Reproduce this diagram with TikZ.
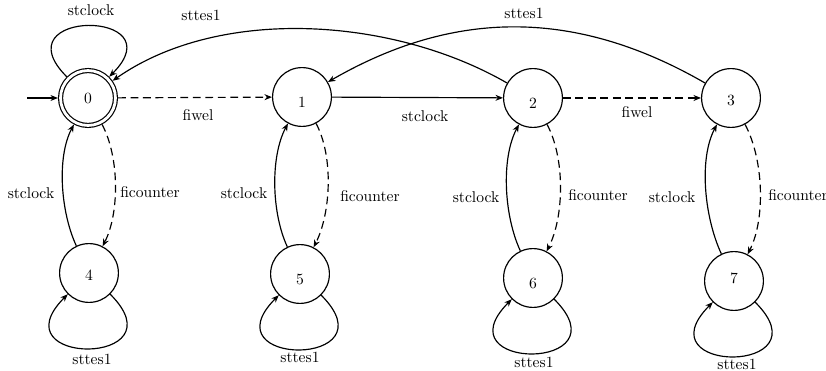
\documentclass[tikz,border=0pt]{standalone}
\usetikzlibrary{arrows.meta}
\begin{document}
\begin{tikzpicture}[x=0.641pt,y=0.641pt,line width=0.75pt,
  >={Stealth[length=4.8pt,width=3.8pt,inset=1.5pt]},
  state/.style={circle,draw,minimum size=37.7pt,inner sep=0pt,text depth=0pt,text height=6.44pt},
  finalstate/.style={double,double distance=1.8pt,minimum size=35.2pt,outer sep=1.65pt},
  lbl/.style={inner sep=0pt},
  dashtrans/.style={->,dash pattern=on 5pt off 3pt},
  solidtrans/.style={->}]
\useasboundingbox (0,0) rectangle (826,-371);

% states
\node[state,finalstate] (n0) at (88,-98) {0};
\node[state,text height=14.1pt] (n1) at (302,-97) {1};
\node[state,text height=14.1pt] (n2) at (533,-98) {2};
\node[state,text height=9pt] (n3) at (731,-98) {3};
\node[state,text height=9pt] (n4) at (89,-273) {4};
\node[state,text height=14.1pt] (n5) at (300,-274) {5};
\node[state,text height=12.85pt] (n6) at (533,-278) {6};
\node[state,text height=2.6pt] (n7) at (734,-281) {7};

% initial arrow
\coordinate (init) at (27,-98);
\draw[solidtrans] (init) -- (n0);

% top row
\draw[dashtrans] (n0) -- (n1);
\draw[solidtrans] (n1) -- (n2);
\draw[dashtrans] (n2) -- (n3);
\draw[solidtrans] (n0) to[out=135,in=45,looseness=5.8] (n0);
\draw[solidtrans] (n2) to[out=150,in=35,looseness=0.85] (n0);
\draw[solidtrans] (n3) to[out=150,in=30,looseness=1] (n1);

% vertical pairs
\foreach \u/\d in {n0/n4,n1/n5,n2/n6,n3/n7}{
  \draw[dashtrans] (\u) to[out=-62,in=63,looseness=0.78] (\d);
  \draw[solidtrans] (\d) to[out=115,in=-118,looseness=0.78] (\u);
  \draw[solidtrans] (\d) to[out=-45,in=-135,looseness=6.2] (\d);
}

% labels
\node[lbl] (l00) at (91,-10) {stclock};
\node[lbl] (l20) at (201,-15) {sttes1};
\node[lbl] (l31) at (524,-13) {sttes1};
\node[lbl] (l01) at (198,-115) {fiwel};
\node[lbl] (l12) at (425,-116) {stclock};
\node[lbl] (l23) at (637,-112) {fiwel};

\node[lbl] (l40) at (31,-193) {stclock};
\node[lbl] (l04) at (150,-192) {ficounter};
\node[lbl] (l51) at (244,-193) {stclock};
\node[lbl] (l15) at (370,-196) {ficounter};
\node[lbl] (l62) at (476,-197) {stclock};
\node[lbl] (l26) at (598,-195) {ficounter};
\node[lbl] (l73) at (672,-197) {stclock};
\node[lbl] (l37) at (798,-195) {ficounter};

\node[lbl] (l44) at (92,-359) {sttes1};
\node[lbl] (l55) at (300,-357) {sttes1};
\node[lbl] (l66) at (534,-362) {sttes1};
\node[lbl] (l77) at (737,-364) {sttes1};
\end{tikzpicture}
\end{document}
